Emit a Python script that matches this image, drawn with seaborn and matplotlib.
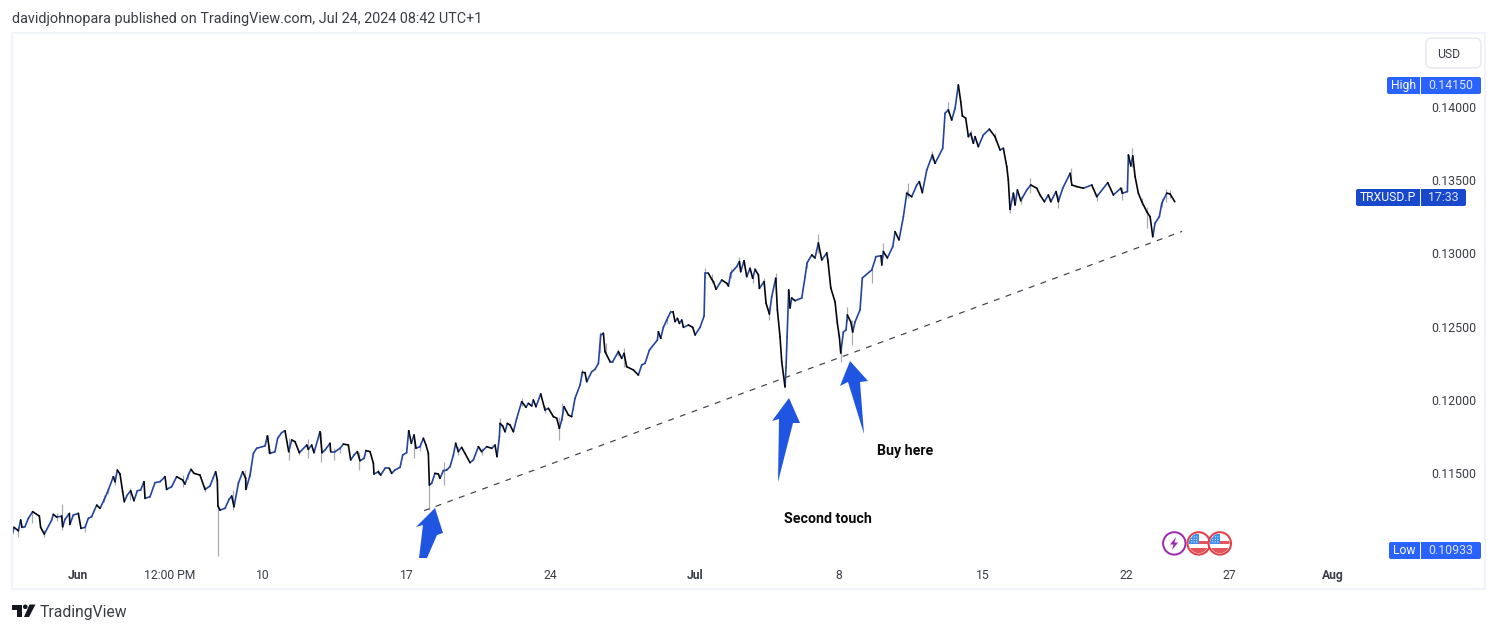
import matplotlib
matplotlib.use("Agg")
import matplotlib.pyplot as plt
from matplotlib.patches import Circle, FancyBboxPatch, Polygon, Rectangle
from matplotlib.transforms import Affine2D
import numpy as np
import pandas as pd
import seaborn as sns

# TRXUSD.P path: hours since 1 Jun 2024 00:00 and price in points of 0.00001 USD
hours = [-75.6,-74.1,-69,-66.3,-64.7,-61.3,-57.4,-52.3,-44.5,-43,-38.7,-30.1,-28.2,-24.3,-18.5,-17.3,-14.6,-9.5,-8.8,-4.9,
 1,4.1,8.8,12.6,16.5,22.4,26.3,31.3,36,41.8,43.8,46.5,49.6,52.7,54.6,58.1,62,65.9,69.8,73.7,77.6,78.8,84.6,90.4,96.3,102.1,104,109.9,115.7,122.7,
 125.4,129.3,132.4,135.9,142.9,148.8,154.6,158.5,161.2,163.1,163.9,166.3,172.1,176.8,179.9,182.6,187.7,192.7,196.2,196.6,
 201.3,205.2,209,218.8,221.5,224.6,230.4,233.5,238.2,242.1,246.4,249.9,253.8,258.8,267.4,269.3,273.2,275.9,282.9,285.3,
 288.8,294.6,295.4,300.4,306.3,310.2,316,318.7,322.6,326.5,329.6,334.3,336.6,341.3,345.2,345.9,351,353.7,358.8,363.8,
 366.5,370.4,376.3,379.4,384,386.4,389.5,392.6,394.9,399.6,403.5,406.6,409.3,410.5,413.2,417.1,421,422.9,426.8,430.7,
 434.6,438.5,441.2,444.3,448.2,452.1,457.9,461.8,467.7,471.5,477.4,483.2,487.1,489.4,492.2,492.9,496,498.8,501.5,504.6,
 508.5,512.4,518.2,523.3,526,529.9,531.8,534.9,540.4,545.4,549.3,555.2,559.1,562.2,564.9,567.6,572.7,576.5,580.4,586.3,
 589,592.1,594.1,599.9,603.8,607.7,610.4,613.5,615.4,621.3,624.4,631,634.9,637.6,640.7,648.5,654.3,658.2,662.1,667.2,
 676.5,677.7,680.4,683.5,687.4,692.1,694.8,697.1,699.9,702.2,704.9,706.9,712.7,717.7,720.5,726.3,731,732.1,736,739.9,
 741.9,745,751.6,757.4,759.4,762.1,769.1,772.2,773.7,777.6,780.7,784.6,787.7,790.5,794.4,795.5,801,803.3,807.2,809.9,
 814.6,816.5,819.6,821.6,825.4,826.6,827.8,829.7,831.3,833.2,837.1,844.9,848.8,851.1,856.6,860.4,864.3,868.3,874.1,875.6,
 878.8,883.8,886.4,888.8,890.4,893.5,896.6,898.1,902.1,904.4,907.1,912.9,915.6,926.6,931.6,937.4,938.3,940.1,944.8,951.1,
 953.8,958.4,963.5,967.4,973.2,979.1,982.1,985.6,990.8,997.3,1000.4,1009.4,1012.1,1015.9,1019.9,1023.8,1027.6,1030.4,1032.3,1036.2,
 1039.3,1042,1045.1,1047.1,1050.9,1056.8,1063.8,1070.4,1076.3,1080.1,1084.1,1085.9,1087.9,1091.8,1093.8,1096.5,1100.4,1107.4,1112.1,1119.1,
 1122.9,1128,1132.6,1135.5,1141.6,1144.3,1149.4,1158,1160,1165.8,1173.5,1183.3,1189.1,1201.9,1208.5,1217.1,1218.9,1224.8,1226,1228.8,
 1231.1,1233.8,1237.6,1241.6,1247.4,1251.3,1254.4,1257.1,1262.1,1264.9,1270.8,1274.6,1280.1]
price_pts = [11088,11129,11106,11179,11129,11133,11190,11236,11206,11129,11083,11179,11218,11199,11206,11133,11183,11224,11149,11213,
 11224,11122,11129,11190,11202,11281,11259,11320,11384,11475,11441,11520,11493,11372,11304,11350,11379,11311,11379,11384,11441,11327,11338,11434,11441,11475,11388,11407,11475,11452,
 11425,11486,11525,11498,11486,11388,11411,11470,11509,11452,11274,11247,11259,11320,11343,11270,11430,11509,11464,11389,
 11486,11634,11669,11685,11753,11634,11646,11737,11776,11789,11646,11726,11714,11639,11691,11662,11691,11639,11782,11639,
 11657,11703,11646,11646,11669,11698,11691,11589,11623,11646,11584,11600,11653,11646,11566,11493,11509,11486,11532,11532,
 11498,11521,11539,11623,11639,11789,11703,11760,11669,11680,11737,11691,11634,11418,11430,11498,11493,11464,11516,11521,
 11543,11623,11703,11646,11675,11634,11571,11589,11680,11646,11680,11669,11691,11612,11748,11839,11821,11782,11839,11828,
 11782,11873,11987,11949,11976,11958,11999,11953,12040,11930,11942,11885,11874,11805,11862,11953,11896,11885,12010,12101,
 12188,12185,12124,12192,12208,12249,12443,12454,12329,12261,12261,12329,12283,12317,12226,12204,12169,12238,12249,12340,
 12408,12465,12420,12495,12545,12602,12602,12534,12556,12522,12545,12495,12511,12495,12443,12495,12572,12864,12864,12823,
 12807,12755,12818,12796,12777,12864,12910,12944,12875,12950,12841,12898,12830,12891,12852,12761,12807,12659,12586,12704,
 12830,12614,12429,12258,12088,12224,12429,12750,12627,12695,12677,12695,12839,12935,12989,12969,13071,12955,13003,12941,
 12764,12668,12525,12429,12320,12463,12477,12579,12532,12463,12532,12614,12832,12887,12978,12984,12921,13012,12969,13046,
 13148,13092,13251,13411,13387,13467,13490,13415,13570,13672,13615,13718,13957,13980,13911,13991,14150,14036,13939,13923,
 13797,13820,13752,13797,13729,13809,13848,13797,13706,13718,13592,13501,13301,13411,13331,13433,13360,13433,13467,13445,
 13399,13353,13399,13353,13422,13353,13445,13547,13467,13456,13445,13467,13387,13483,13399,13445,13411,13422,13672,13597,
 13665,13524,13411,13353,13285,13251,13114,13206,13251,13342,13411,13406,13353]

# Thin high/low wicks that stick out from the price path
wick_hours = [163.9,410.5,-17.7,-53.5,61.2,122.7,246.4,269.3,284.1,328.8,393,299.3,195.4,222.7,181,427.6,562.2,565.7,609.6,616.6,
 637.6,492.9,732,771.8,806.8,815,898,903.2,890.4,864.3,940.1,927.3,969.3,1015.9,1087.9,1158.8,1144.3,1229.9,1247.4,1111.3,1269.9,1218.9,
 -69,-38.7,-24.3,8.8,31.3,36,43.8,129.3,148.8,201.3,258.8,306.3,351,399.6,444.3,471.5,518.2,545.4,589,631,
 687.4,739.9,762.1,787.7,801,851.1,875.6,967.4,997.3,1042,1070.4,1100.4,1189.1,1241.6,1264.9,1274.6]
wick_low = [10933,11247,11111,11161,11318,11407,11589,11605,11578,11521,11600,11589,11384,11634,11247,11418,11725,11862,12317,12300,
 12226,11805,12835,12898,12545,12796,12534,12374,12261,13000,12978,12798,13378,13959,13276,13501,13310,13590,13174,13413,13353,13365,
 11060,11060,11170,11100,11300,11360,11420,11460,11370,11470,11620,11640,11490,11650,11620,11620,11960,11910,12160,12300,
 12520,12800,12830,12800,12780,12900,12920,13390,13640,13790,13770,13340,13360,13330,13320,13380]
wick_high = [11274,11418,11288,11236,11395,11486,11737,11730,11782,11646,11760,11669,11521,11760,11384,11577,11885,11975,12465,12390,
 12352,11873,12900,12978,12636,12868,12636,12545,12329,13130,13073,12900,13483,14036,13344,13583,13399,13720,13319,13515,13440,13456,
 11130,11110,11225,11150,11350,11400,11480,11510,11410,11520,11660,11680,11530,11700,11680,11670,12010,11960,12210,12350,
 12570,12860,12890,12860,12830,12950,12970,13430,13700,13840,13820,13390,13410,13380,13380,13430]

trend_hours = [404.3, 1288.6]
trend_pts = [11243, 13150]

y_tick_prices = [0.115, 0.120, 0.125, 0.130, 0.135, 0.140]
x_tick_hours = [0, 108, 216, 384, 552, 720, 888, 1056, 1224, 1344, 1464]
x_tick_labels = ["Jun", "12:00 PM", "10", "17", "24", "Jul", "8", "15", "22", "27", "Aug"]
bold_ticks = {"Jun", "Jul", "Aug"}

BLUE = "#2962ff"
ROYAL = "#1848cc"
INK = "#131722"
TEXT = "#3a3d47"
FRAME = "#f0f3fa"
ARROW = "#1f55e0"

sns.set_theme(style="white")
plt.rcParams["font.family"] = ["Roboto", "DejaVu Sans"]

W, H = 1497, 632
fig = plt.figure(figsize=(W / 100, H / 100), dpi=100, facecolor="white")
ax = fig.add_axes([12 / W, 1 - 589 / H, 1473 / W, 556 / H])
ax.set_xlim(-76.4, 1642)
ax.set_ylim(0.10708, 0.14505)

# Wicks underneath, then one short up or down segment per step of the path
ax.vlines(wick_hours, np.array(wick_low) / 1e5, np.array(wick_high) / 1e5,
          color="#a9abb3", lw=0.9, zorder=1)

prices = np.array(price_pts) / 1e5
segments = pd.DataFrame({
    "t": np.ravel(np.column_stack([hours[:-1], hours[1:]])),
    "price": np.ravel(np.column_stack([prices[:-1], prices[1:]])),
    "seg": np.repeat(np.arange(len(hours) - 1), 2),
    "move": np.repeat(np.where(np.diff(prices) >= 0, "up", "down"), 2),
})
sns.lineplot(data=segments, x="t", y="price", hue="move", units="seg", estimator=None,
             sort=False, palette={"up": "#23459f", "down": "#05070f"}, lw=1.2,
             legend=False, ax=ax, zorder=2)

trend = pd.DataFrame({"t": trend_hours, "price": np.array(trend_pts) / 1e5})
sns.lineplot(data=trend, x="t", y="price", color="#3c3f48", lw=0.85, ax=ax, zorder=3,
             linestyle=(0, (5, 5.5)))

ax.set_xlabel("")
ax.set_ylabel("")
ax.yaxis.tick_right()
ax.set_yticks(y_tick_prices, [f"{v:.5f}" for v in y_tick_prices])
ax.set_xticks(x_tick_hours, x_tick_labels)
ax.tick_params(axis="y", length=0, pad=-39, labelsize=8.9, labelcolor=TEXT)
ax.tick_params(axis="x", length=0, pad=-14.5, labelsize=8.7, labelcolor=TEXT)
for tick_label in ax.get_xticklabels():
    if tick_label.get_text() in bold_ticks:
        tick_label.set_fontweight("bold")
for spine in ax.spines.values():
    spine.set_color(FRAME)
    spine.set_linewidth(1.5)

# Chart furniture placed in screen pixels, origin at the top left
pix = Affine2D().scale(1, -1).translate(0, H)


def label(x, y, s, **kw):
    kw.setdefault("ha", "center")
    kw.setdefault("va", "center")
    fig.text(x, y + 0.7, s, transform=pix, **kw)


def badge(x0, x1, y0, y1, sep, color, left, right):
    fig.add_artist(FancyBboxPatch((x0 + 2, y0 + 2), x1 - x0 - 4, y1 - y0 - 4, transform=pix,
                                  boxstyle="round,pad=2,rounding_size=2", fc=color, ec="none"))
    fig.add_artist(Rectangle((sep, y0), 1, y1 - y0, transform=pix, fc="white", ec="none"))
    label((x0 + sep) / 2, (y0 + y1) / 2 - 0.7, left, color="white", fontsize=8.7)
    label((sep + x1) / 2 + 0.5, (y0 + y1) / 2 - 0.7, right, color="#dbe4ff", fontsize=8.9)


badge(1387, 1481, 77, 94, 1420, BLUE, "High", "0.14150")
badge(1356, 1466, 189, 206, 1420, ROYAL, "TRXUSD.P", "17:33")
badge(1389, 1481, 542, 559, 1420, BLUE, "Low", "0.10933")

fig.add_artist(FancyBboxPatch((1431, 43), 45, 20, transform=pix,
                              boxstyle="round,pad=5,rounding_size=6", fc="white", ec="#e6e8ee", lw=1))
label(1449, 53.5, "USD", color=TEXT, fontsize=8.8)

label(12, 18, "davidjohnopara published on TradingView.com, Jul 24, 2024 08:42 UTC+1",
      ha="left", color="#3a3d47", fontsize=10.35)
label(40, 611.5, "TradingView", ha="left", color="#3a3d47", fontsize=11.3)
label(905, 450, "Buy here", color="#0b0b0b", fontsize=10.2, fontweight="bold")
label(828, 518, "Second touch", color="#0b0b0b", fontsize=10.2, fontweight="bold")

# Hand-drawn arrows pointing at the trendline touches
arrow_outlines = [
    [(435, 508), (416, 527), (423, 525), (419, 558), (427, 558), (437, 535), (443, 533)],
    [(789, 398), (772, 421), (779, 419), (778, 482), (793, 423), (800, 423)],
    [(850, 361), (840, 386), (848, 382), (864, 434), (860, 382), (868, 381)],
]
for outline in arrow_outlines:
    fig.add_artist(Polygon(outline, closed=True, transform=pix, fc=ARROW, ec="none"))

# Logo mark
logo_parts = [
    [(12, 604.5), (21.5, 604.5), (21.5, 617), (16.5, 617), (16.5, 610), (12, 610)],
    [(29.5, 604.5), (35.5, 604.5), (29, 617), (24, 617)],
]
for part in logo_parts:
    fig.add_artist(Polygon(part, closed=True, transform=pix, fc=INK, ec="none"))
fig.add_artist(Circle((25.3, 606.8), 2.3, transform=pix, fc=INK, ec="none"))

# Calendar event markers
fig.add_artist(Circle((1174.3, 543.4), 11.2, transform=pix, fc="white", ec="#9c27b0", lw=1.4))
fig.add_artist(Polygon([(1176, 537), (1170, 544.5), (1173.5, 544.5), (1172, 550), (1178, 542.5), (1174.5, 542.5)],
                       closed=True, transform=pix, fc="#9c27b0", ec="none"))
for cx in (1198.7, 1219.8):
    fig.add_artist(Circle((cx, 543.4), 11.2, transform=pix, fc="white", ec="#e0434b", lw=1.5))
    flag_parts = [(cx - 10.5, 540.5, 21, 3.6, "#e4545c"), (cx - 10.5, 547.5, 21, 6.5, "#e4545c"),
                  (cx - 10.5, 534, 11, 9.5, "#3f8ef0")]
    for x0, y0, w, h, color in flag_parts:
        stripe = Rectangle((x0, y0), w, h, transform=pix, fc=color, ec="none")
        fig.add_artist(stripe)
        stripe.set_clip_path(Circle((cx, 543.4), 9.8, transform=pix))
    for dx in (-7, -4.5, -2):
        for dy in (-6.5, -4, -1.5):
            fig.add_artist(Circle((cx + dx, 543.4 + dy), 0.55, transform=pix, fc="white", ec="none"))

fig.savefig("out.png", dpi=100)
